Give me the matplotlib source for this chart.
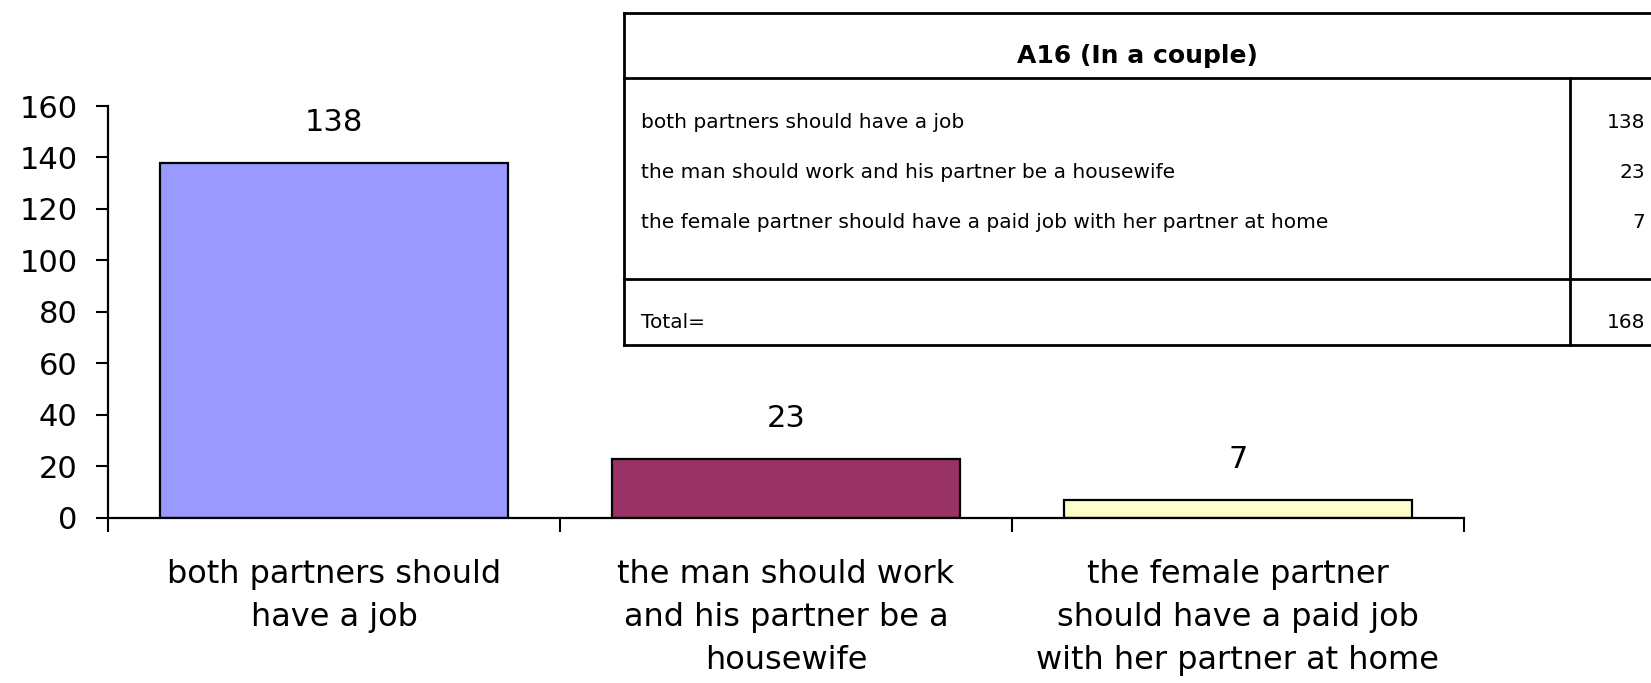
import numpy as np
import matplotlib.pyplot as plt

categories = ['both partners should\nhave a job',
              'the man should work\nand his partner be a\nhousewife',
              'the female partner\nshould have a paid job\nwith her partner at home']
values = [138, 23, 7]
colors = ['#9999FF', '#993366', '#FFFFCC']

table_title = 'A16 (In a couple)'
table_rows = ['both partners should have a job',
              'the man should work and his partner be a housewife',
              'the female partner should have a paid job with her partner at home']
table_total = 168

plt.rcParams['font.family'] = ['DejaVu Sans']

fig = plt.figure(figsize=(16.51, 6.83), dpi=100)
ax = fig.add_axes([0.0654, 0.2416, 0.8213, 0.6032])

ind = np.arange(len(values))
rects = ax.bar(ind, values, 0.77, color=colors, edgecolor='black', linewidth=1.6)
for r, v in zip(rects, values):
    ax.annotate(str(v), (r.get_x() + r.get_width() / 2, v), xytext=(0, 29),
                textcoords='offset points', ha='center', va='center', fontsize=22)

ax.set_xlim(-0.5, len(values) - 0.5)
ax.set_ylim(0, 160)
ax.set_yticks(np.arange(0, 161, 20))
ax.tick_params(axis='y', labelsize=22, length=9, width=1.5, pad=13)
ax.set_xticks(np.arange(-0.5, len(values), 1.0))
ax.set_xticklabels([])
ax.tick_params(axis='x', length=10, width=1.5)
for i, c in enumerate(categories):
    ax.text(i, -0.10, c, transform=ax.get_xaxis_transform(), ha='center', va='top',
            fontsize=23, linespacing=1.5)
for s in ['top', 'right']:
    ax.spines[s].set_visible(False)
for s in ['left', 'bottom']:
    ax.spines[s].set_linewidth(1.6)

# summary table in figure coords
tl, tr, tt, tb = 0.378, 1.0, 0.981, 0.495
hb, ts, dv = 0.886, 0.5915, 0.951
lw = 2
def hline(y, x0=tl, x1=tr):
    fig.add_artist(plt.Line2D([x0, x1], [y, y], color='black', lw=lw))
def vline(x, y0, y1):
    fig.add_artist(plt.Line2D([x, x], [y0, y1], color='black', lw=lw))
hline(tt)
hline(hb)
hline(ts)
hline(tb)
vline(tl, tb, tt)
vline(dv, tb, hb)

fig.text((tl + tr) / 2, 1 - 56 / 683, table_title, ha='center', va='center',
         fontsize=18, fontweight='bold')
row_y = [122, 173, 223]
for label, v, y in zip(table_rows, values, row_y):
    fig.text(641 / 1651, 1 - y / 683, label, ha='left', va='center', fontsize=14.5)
    fig.text(1645 / 1651, 1 - y / 683, str(v), ha='right', va='center', fontsize=14.5)
fig.text(641 / 1651, 1 - 322 / 683, 'Total=', ha='left', va='center', fontsize=14.5)
fig.text(1645 / 1651, 1 - 322 / 683, str(table_total), ha='right', va='center', fontsize=14.5)

fig.savefig('out.png', dpi=100)
